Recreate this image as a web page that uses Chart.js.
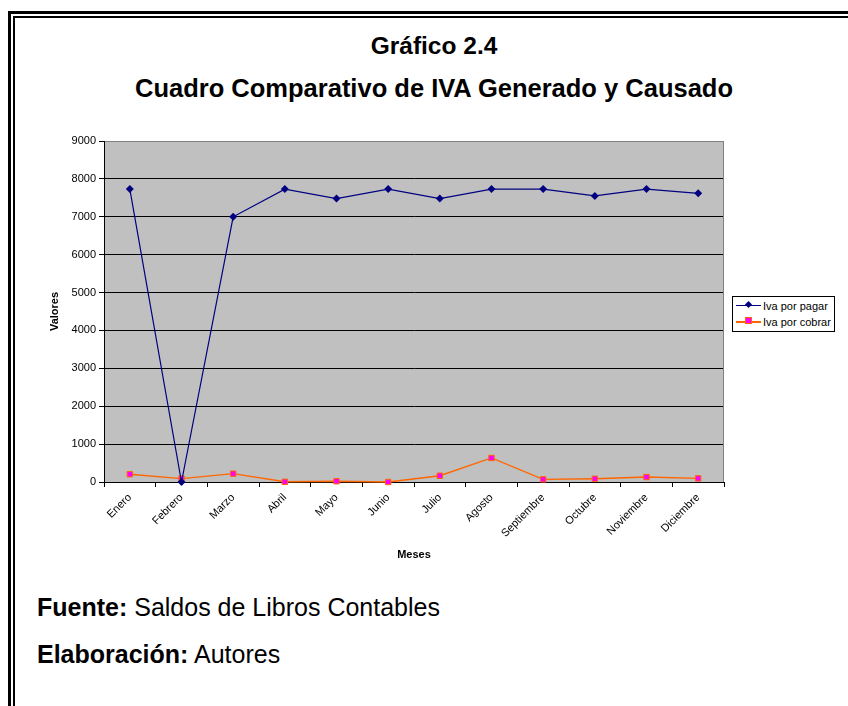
<!DOCTYPE html>
<html>
<head>
<meta charset="utf-8">
<script src="https://cdn.jsdelivr.net/npm/chart.js@4.4.1/dist/chart.umd.min.js"></script>
<style>
  html, body { margin: 0; padding: 0; background: #fff; }
  body { width: 848px; height: 706px; position: relative; overflow: hidden; font-family: "Liberation Sans", Arial, sans-serif; color: #000; }
  .b1 { position: absolute; left: 8px; top: 11px; width: 900px; height: 800px; border-left: 3px solid #000; border-top: 3px solid #000; }
  .b2 { position: absolute; left: 13px; top: 16px; width: 900px; height: 800px; border-left: 2px solid #000; border-top: 2px solid #000; }
  .t { position: absolute; left: 0; width: 868px; text-align: center; font-weight: bold; white-space: nowrap; }
  .foot { position: absolute; left: 37px; font-size: 25px; white-space: nowrap; }
  #wrap { position: absolute; left: 0; top: 130px; width: 848px; height: 440px; }
  #legend { position: absolute; left: 732px; top: 296px; width: 101px; height: 34px; border: 1px solid #000; background: #fff; font-size: 11px; }
  .li { position: absolute; left: 2px; height: 14px; width: 100px; }
  .ln { position: absolute; left: 1px; top: 6px; width: 25px; height: 1px; }
  .mk { position: absolute; }
  .lt { position: absolute; left: 28px; top: 0; line-height: 14px; white-space: nowrap; }
</style>
</head>
<body>
<div class="b1"></div>
<div class="b2"></div>
<div class="t" style="top:31px;font-size:24.5px;line-height:30px;">Gráfico 2.4</div>
<div class="t" style="top:73px;font-size:25.5px;line-height:30px;">Cuadro Comparativo de IVA Generado y Causado</div>
<div id="wrap"><canvas id="c"></canvas></div>
<div id="legend">
  <div class="li" style="top:2px;">
    <div class="ln" style="background:#000080;"></div>
    <div class="mk" style="left:11px;top:3px;width:5px;height:5px;background:#000080;transform:rotate(45deg);"></div>
    <div class="lt">Iva por pagar</div>
  </div>
  <div class="li" style="top:18px;">
    <div class="ln" style="background:#FF6600;height:1.5px;"></div>
    <div class="mk" style="left:10px;top:2px;width:5px;height:5px;background:#FF00FF;border:1px solid #FF6600;"></div>
    <div class="lt">Iva por cobrar</div>
  </div>
</div>
<div class="foot" style="top:592px;line-height:30px;"><b>Fuente:</b> Saldos de Libros Contables</div>
<div class="foot" style="top:639px;line-height:30px;"><b>Elaboración:</b> Autores</div>
<script>
const categories = ["Enero","Febrero","Marzo","Abril","Mayo","Junio","Julio","Agosto","Septiembre","Octubre","Noviembre","Diciembre"];
const ivaPorPagar = [7730, 0, 7000, 7730, 7480, 7730, 7480, 7730, 7730, 7550, 7730, 7620];
const ivaPorCobrar = [205, 90, 220, 5, 20, 0, 165, 635, 70, 85, 130, 95];
const yTicks = [0, 1000, 2000, 3000, 4000, 5000, 6000, 7000, 8000, 9000];

const plotBg = {
  id: 'plotBg',
  beforeDraw(chart) {
    const a = chart.chartArea, ctx = chart.ctx;
    ctx.save();
    ctx.fillStyle = '#C0C0C0';
    ctx.fillRect(a.left, a.top, a.right - a.left, a.bottom - a.top);
    ctx.restore();
  },
  beforeDatasetsDraw(chart) {
    const a = chart.chartArea, ctx = chart.ctx;
    ctx.save();
    ctx.strokeStyle = '#808080';
    ctx.lineWidth = 1;
    ctx.beginPath();
    ctx.moveTo(a.right - 0.5, a.top);
    ctx.lineTo(a.right - 0.5, a.bottom);
    ctx.stroke();
    ctx.restore();
  }
};

const f11 = { family: '"Liberation Sans", Arial, sans-serif', size: 11 };

new Chart(document.getElementById('c'), {
  type: 'line',
  data: {
    labels: categories,
    datasets: [
      {
        label: 'Iva por pagar',
        data: ivaPorPagar,
        borderColor: '#000080',
        backgroundColor: '#000080',
        borderWidth: 1.2,
        pointStyle: 'rectRot',
        pointRadius: 4,
        pointBorderWidth: 0,
        pointBackgroundColor: '#000080',
        tension: 0,
        clip: false
      },
      {
        label: 'Iva por cobrar',
        data: ivaPorCobrar,
        borderColor: '#FF6600',
        backgroundColor: '#FF00FF',
        borderWidth: 1.4,
        pointStyle: 'rect',
        pointRadius: 3.8,
        pointBorderWidth: 1,
        pointBorderColor: '#FF6600',
        pointBackgroundColor: '#FF00FF',
        tension: 0,
        clip: false
      }
    ]
  },
  options: {
    responsive: true,
    maintainAspectRatio: false,
    animation: false,
    events: [],
    layout: { padding: { left: 44, right: 124, top: 11, bottom: 0 } },
    plugins: { legend: { display: false }, tooltip: { enabled: false }, title: { display: false } },
    scales: {
      x: {
        offset: true,
        grid: { offset: true, drawOnChartArea: false, drawTicks: true, tickLength: 5, tickColor: '#000' },
        border: { color: '#000', width: 1 },
        ticks: { font: f11, color: '#000', minRotation: 45, maxRotation: 45, padding: 4, autoSkip: false },
        title: { display: true, text: 'Meses', font: { ...f11, weight: 'bold' }, color: '#000', padding: { top: 4, bottom: 8 } },
        afterFit(s) { s.height = 88; }
      },
      y: {
        min: 0, max: 9000,
        afterBuildTicks(s) { s.ticks = yTicks.map(v => ({ value: v })); },
        grid: {
          color: (c) => (c.tick && c.tick.value === 9000) ? '#808080' : '#000',
          lineWidth: 1, tickLength: 5, tickColor: '#000'
        },
        border: { color: '#000', width: 1 },
        ticks: { font: f11, color: '#000', padding: 3, callback: (v) => String(v) },
        title: { display: true, text: 'Valores', font: { ...f11, weight: 'bold' }, color: '#000', padding: { top: 4, bottom: 4 } },
        afterFit(s) { s.width = 60; }
      }
    }
  },
  plugins: [plotBg]
});
</script>
</body>
</html>
